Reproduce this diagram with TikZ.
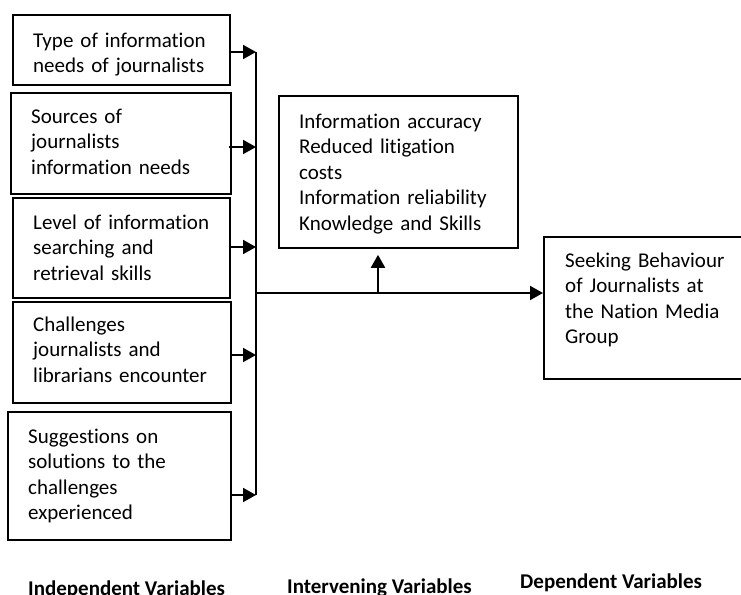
\documentclass[tikz,border=0pt]{standalone}
\usepackage{fontspec}
\setmainfont{Carlito}[Ligatures={NoCommon}]
\usetikzlibrary{arrows.meta}
\setlength{\parindent}{0pt}
\begin{document}
\begin{tikzpicture}[x=1pt,y=-1pt,
  box/.style={draw, line width=1.8pt, anchor=north west, inner sep=0pt},
  txt/.style={anchor=north west, inner sep=0pt, text width=#1, align=left,
    font=\fontsize{21}{25.5}\selectfont, execute at begin node={\rule{0pt}{16pt}}},
  txt/.default=220pt,
  arr/.style={line width=2pt, -{Triangle[length=13pt,width=14pt]}},
  bus/.style={line width=2pt},
  lbl/.style={anchor=base west, inner sep=0pt, font=\fontsize{21}{25}\selectfont\bfseries}]
\useasboundingbox (0,0) rectangle (741,594);
\clip (0,0) rectangle (741,594);

% boxes
\node[box, minimum width=217pt, minimum height=70pt]  (b1) at (12,14) {};
\node[box, minimum width=220pt, minimum height=101pt] (b2) at (10,92) {};
\node[box, minimum width=217pt, minimum height=100pt] (b3) at (12,197) {};
\node[box, minimum width=218pt, minimum height=101pt] (b4) at (12,301) {};
\node[box, minimum width=223pt, minimum height=128pt] (b5) at (7,411) {};
\node[box, minimum width=239pt, minimum height=152pt] (mid) at (278,95) {};
\node[box, minimum width=230pt, minimum height=142pt] (dep) at (543,236) {};

% texts
\node[txt] (t1) at (33,31) {Type of information\\needs of journalists};
\node[txt] (t2) at (31,107) {Sources of\\journalists\\information needs};
\node[txt] (t3) at (33,213) {Level of information\\searching and\\retrieval skills};
\node[txt] (t4) at (33,315) {Challenges\\journalists and\\librarians encounter};
\node[txt] (t5) at (28,427) {Suggestions on\\solutions to the\\challenges\\experienced};
\node[txt] (tm) at (299,112) {Information accuracy\\Reduced litigation\\costs\\Information reliability\\Knowledge and Skills};
\node[txt=175pt] (td) at (565,251) {Seeking Behaviour\\of Journalists at\\the Nation Media\\Group};

% labels
\node[lbl] (l1) at (28,595.5) {Independent Variables};
\node[lbl] (l2) at (287,593.5) {Intervening Variables};
\node[lbl] (l3) at (520,588.5) {Dependent Variables};

% bus and connectors
\coordinate (a1) at (256,52);
\coordinate (a2) at (256,147);
\coordinate (a3) at (256,247);
\coordinate (a4) at (256,355);
\coordinate (a5) at (256,495);
\coordinate (j) at (256,293);
\coordinate (u) at (378,293);
\draw[bus] (a1) -- (a5);
\draw[arr] (b1.east |- a1) -- (a1);
\draw[arr] ([xshift=-3pt]b2.east |- a2) -- (a2);
\draw[arr] (b3.east |- a3) -- (a3);
\draw[arr] (b4.east |- a4) -- (a4);
\draw[arr] (b5.east |- a5) -- (a5);
\draw[arr] (j) -- (j -| dep.west);
\draw[arr, shorten >=6pt] (u) -- (u |- mid.south);
\end{tikzpicture}
\end{document}
